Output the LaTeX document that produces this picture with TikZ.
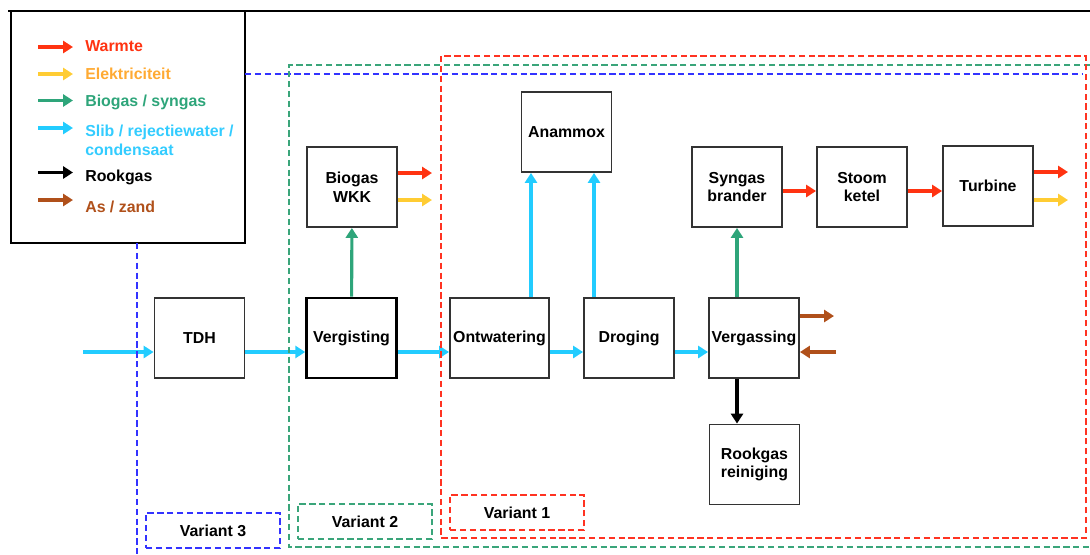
\documentclass[tikz,border=0pt]{standalone}
\usepackage{fontspec}
\setmainfont{Liberation Sans}
\definecolor{warmte}{HTML}{FF3311}
\definecolor{elektra}{HTML}{FFCC33}
\definecolor{elektxt}{HTML}{FFAA33}
\definecolor{gasgreen}{HTML}{2EA57A}
\definecolor{slib}{HTML}{22CCFF}
\definecolor{slibtxt}{HTML}{33CCFF}
\definecolor{aszand}{HTML}{B0501A}
\definecolor{varblue}{HTML}{3333FF}
\definecolor{vargreen}{HTML}{3AA57A}
\definecolor{varred}{HTML}{FF3322}
\usetikzlibrary{arrows.meta,positioning}

\begin{document}
\begin{tikzpicture}[x=0.025cm,y=-0.025cm,
  font=\fontsize{11.3}{13.3}\selectfont\bfseries,
  unit/.style={draw=black!80,line width=1.35pt,minimum width=2.25cm,minimum height=2cm,align=center,inner sep=1pt},
  flow/.style={line width=2.2pt,-{Triangle[length=7pt,width=8.5pt]}},
  region/.style={line width=1pt,dash pattern=on 4.5pt off 2.5pt},
  tag/.style={region,minimum width=3.35cm,minimum height=0.875cm}]
  \useasboundingbox (0,0) rectangle (1090,554);

  % top rule and legend
  \draw[line width=1.5pt] (8,11) -- (1090,11);
  \node[draw,line width=1.2pt,minimum width=5.85cm,minimum height=5.8cm] (legend) at (128,127) {};
  \foreach \acol/\tcol/\txt/\ya/\yt [count=\i] in {
      warmte/warmte/{Warmte}/47/46,
      elektra/elektxt/{Elektriciteit}/74/73.5,
      gasgreen/gasgreen/{Biogas / syngas}/100.5/102.5,
      slib/slibtxt/{Slib / rejectiewater /\\condensaat}/128/140.5,
      black/black/{Rookgas}/172.5/177.5,
      aszand/aszand/{As / zand}/200/206.5}{
    \coordinate (la\i) at (38,\ya);
    \coordinate (lb\i) at (73,\ya);
    \draw[flow,\acol] (la\i) -- (lb\i);
    \node[anchor=west,align=left,inner sep=0pt,text=\tcol] (leg\i) at (85,\yt) {\txt};
  }

  % process units
  \node[unit] (tdh) at (199.5,338) {TDH};
  \node[unit,draw=black,line width=1.8pt] (verg) at (351.5,338) {Vergisting};
  \node[unit] (wkk) at (352,187) {Biogas\\WKK};
  \node[unit] (ontw) at (499.5,338) [minimum width=2.475cm] {Ontwatering};
  \node[unit] (anammox) at (566.5,132) {Anammox};
  \node[unit] (drog) at (629,338) {Droging};
  \node[unit] (vgas) at (754,338) {Vergassing};
  \node[unit] (brander) at (737,187) {Syngas\\brander};
  \node[unit] (ketel) at (862,187) {Stoom\\ketel};
  \node[unit] (turbine) at (988,186) {Turbine};
  \node[unit] (rookgas) at (754.5,464.5) {Rookgas\\reiniging};

  % helper levels
  \coordinate (line) at (0,352);
  \coordinate (heat) at (0,191);
  \coordinate (ax1) at (531,0);
  \coordinate (ax2) at (594,0);

  % sludge line
  \coordinate (in) at (83,352);
  \draw[flow,slib] (in) -- (tdh.west |- line);
  \draw[flow,slib] (tdh.east |- line) -- (verg.west |- line);
  \draw[flow,slib] (verg.east |- line) -- (ontw.west |- line);
  \draw[flow,slib] (ontw.east |- line) -- (drog.west |- line);
  \draw[flow,slib] (drog.east |- line) -- (vgas.west |- line);
  \draw[flow,slib] (ontw.north -| ax1) -- (anammox.south -| ax1);
  \draw[flow,slib] (drog.north -| ax2) -- (anammox.south -| ax2);

  % gas
  \draw[flow,gasgreen] (verg) -- (wkk);
  \draw[flow,gasgreen] (vgas.north -| brander) -- (brander);
  \draw[flow,black] (vgas.south -| brander) -- (rookgas.north -| brander);

  % heat and power
  \draw[flow,warmte] (brander.east |- heat) -- (ketel.west |- heat);
  \draw[flow,warmte] (ketel.east |- heat) -- (turbine.west |- heat);
  \coordinate (wkkheat) at (432,173);
  \coordinate (wkkpower) at (432,200);
  \draw[flow,warmte] (wkk.east |- wkkheat) -- (wkkheat);
  \draw[flow,elektra] (wkk.east |- wkkpower) -- (wkkpower);
  \coordinate (tbheat) at (1068,172);
  \coordinate (tbpower) at (1068,200);
  \draw[flow,warmte] (turbine.east |- tbheat) -- (tbheat);
  \draw[flow,elektra] (turbine.east |- tbpower) -- (tbpower);

  % ash and sand
  \coordinate (asout) at (834,316);
  \coordinate (zandin) at (836,352);
  \draw[flow,aszand] (vgas.east |- asout) -- (asout);
  \draw[flow,aszand] (zandin) -- (vgas.east |- zandin);

  % variant regions
  \draw[region,varblue] (245,74) -- (1082,74);
  \draw[region,varblue] (137,243) -- (137,554);
  \draw[region,vargreen] (1090,65) -- (289,65) -- (289,547) -- (1090,547);
  \draw[region,varred] (441,56) rectangle (1086,538);
  \node[tag,draw=varblue] (var3) at (213,530.5) {Variant 3};
  \node[tag,draw=vargreen] (var2) at (365,521.5) {Variant 2};
  \node[tag,draw=varred] (var1) at (517,512.5) {Variant 1};
\end{tikzpicture}
\end{document}
